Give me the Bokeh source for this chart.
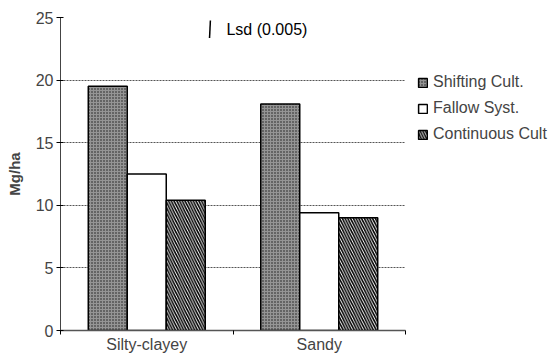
from bokeh.plotting import figure
from bokeh.models import (ColumnDataSource, FixedTicker, Legend, LegendItem, Range1d)
from bokeh.transform import dodge
from bokeh.core.properties import value
from bokeh.embed import file_html
from bokeh.resources import INLINE

categories = ["Silty-clayey", "Sandy"]
shifting = [19.5, 18.1]
fallow = [12.5, 9.4]
continuous = [10.4, 9.0]
series_names = ["Shifting Cult.", "Fallow Syst.", "Continuous Cult"]
lsd_value = 1.4
lsd_label = "Lsd (0.005)"
y_ticks = [0, 5, 10, 15, 20, 25]

FONT = "Liberation Sans"
xpos = [i + 0.5 for i in range(len(categories))]
src = ColumnDataSource(dict(x=xpos, shifting=shifting, fallow=fallow, continuous=continuous))

p = figure(width=533, height=339, output_backend="svg", toolbar_location=None,
           x_range=Range1d(0, len(categories)), y_range=Range1d(0, 25),
           min_border_left=60, min_border_right=125, min_border_top=17, min_border_bottom=8)
p.frame_width = 345
p.frame_height = 313
p.outline_line_color = None
p.background_fill_color = "white"

bw = 0.226
r1 = p.vbar(x=dodge("x", -bw, range=p.x_range), top="shifting", width=bw, source=src,
            fill_color="#959595", line_color="black", line_width=1.5,
            hatch_pattern=".", hatch_color="#1a1a1a", hatch_scale=3, hatch_weight=1.4)
r2 = p.vbar(x=dodge("x", 0, range=p.x_range), top="fallow", width=bw, source=src,
            fill_color="white", line_color="black", line_width=1.5)
r3 = p.vbar(x=dodge("x", bw, range=p.x_range), top="continuous", width=bw, source=src,
            fill_color="white", line_color="black", line_width=1.5,
            hatch_pattern="\\", hatch_color="black", hatch_scale=5.5, hatch_weight=1.6)

# Lsd annotation
lsd_x = 0.864
lsd_top = 24.76
p.segment(x0=[lsd_x], y0=[lsd_top - lsd_value], x1=[lsd_x + 0.005], y1=[lsd_top],
          line_color="black", line_width=1.5)
p.text(x=[0.962], y=[lsd_top - lsd_value / 2], text=[lsd_label], text_font=value(FONT),
       text_font_size="16px", text_baseline="middle", text_align="left", text_color="black")

# axes
p.xaxis.ticker = FixedTicker(ticks=xpos, minor_ticks=list(range(len(categories) + 1)))
p.xaxis.major_label_overrides = {x: c for x, c in zip(xpos, categories)}
p.xaxis.major_tick_line_color = None
p.xaxis.minor_tick_out = 4
p.xaxis.minor_tick_in = 0
p.xaxis.minor_tick_line_color = "black"
p.xaxis.axis_line_color = "#555555"
p.xaxis.axis_line_width = 1.5
p.xaxis.major_label_text_font = FONT
p.xaxis.major_label_text_font_size = "16px"
p.xaxis.major_label_standoff = -1

p.yaxis.ticker = FixedTicker(ticks=y_ticks)
p.yaxis.major_tick_out = 4
p.yaxis.major_tick_in = 3
p.yaxis.minor_tick_line_color = None
p.yaxis.axis_line_color = "#444444"
p.yaxis.major_label_text_font = FONT
p.yaxis.major_label_text_font_size = "16px"
p.yaxis.major_label_standoff = 3
p.yaxis.axis_label = "Mg/ha"
p.yaxis.axis_label_text_font = FONT
p.yaxis.axis_label_text_font_style = "bold"
p.yaxis.axis_label_text_font_size = "15px"
p.yaxis.axis_label_standoff = 10

p.xgrid.grid_line_color = None
p.ygrid.ticker = FixedTicker(ticks=[5, 10, 15, 20])
p.ygrid.grid_line_color = "#555555"
p.ygrid.grid_line_dash = "2 1"
p.ygrid.grid_line_width = 1

legend = Legend(items=[LegendItem(label=series_names[0], renderers=[r1]),
                       LegendItem(label=series_names[1], renderers=[r2]),
                       LegendItem(label=series_names[2], renderers=[r3])],
                location=(12, 187), glyph_width=11, glyph_height=11, spacing=8,
                label_text_font=FONT, label_text_font_size="16px", label_standoff=5,
                padding=2, margin=0, border_line_color=None, background_fill_alpha=0,
                label_height=17)
p.add_layout(legend, "right")

open("out.html", "w").write(file_html(p, INLINE))
